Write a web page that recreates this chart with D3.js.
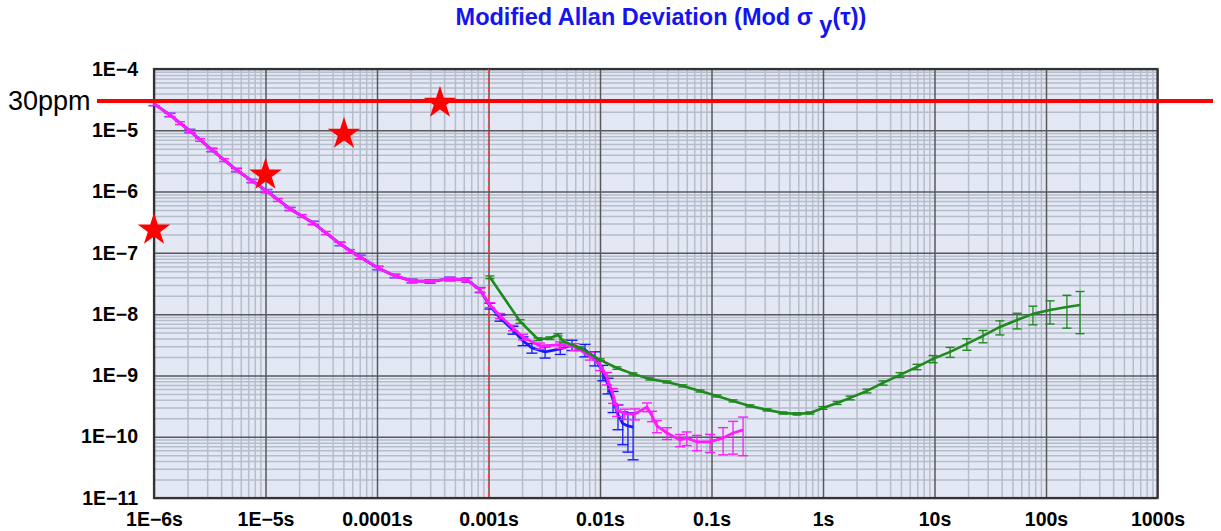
<!DOCTYPE html>
<html><head><meta charset="utf-8">
<script src="https://cdn.jsdelivr.net/npm/d3@7"></script>
<style>
body{margin:0;background:#fff;}
svg{display:block;font-family:"Liberation Sans",Arial,Helvetica,sans-serif;}
</style>
</head><body>
<svg id="chart" width="1221" height="531"></svg>
<script>
// ---------- data ----------
const xTicks = [1e-6, 1e-5, 1e-4, 1e-3, 1e-2, 1e-1, 1, 10, 100, 1000];
const xTickLabels = ["1E\u22126s", "1E\u22125s", "0.0001s", "0.001s", "0.01s", "0.1s", "1s", "10s", "100s", "1000s"];
const yTicks = [1e-11, 1e-10, 1e-9, 1e-8, 1e-7, 1e-6, 1e-5, 1e-4];
const yTickLabels = ["1E\u221211", "1E\u221210", "1E\u22129", "1E\u22128", "1E\u22127", "1E\u22126", "1E\u22125", "1E\u22124"];

const titleMain = "Modified Allan Deviation (Mod \u03c3 ";
const titleSub = "y";
const titleEnd = "(\u03c4))";

const magentaTau = [1.0e-6, 1.39e-6, 1.71e-6, 2.1e-6, 2.59e-6, 3.31e-6, 4.25e-6, 5.5e-6, 7.57e-6, 1.03e-5,
  1.29e-5, 1.66e-5, 2.12e-5, 2.68e-5, 3.49e-5, 4.66e-5, 5.73e-5, 7.05e-5, 1.02e-4, 1.45e-4,
  2.06e-4, 2.99e-4, 4.5e-4, 6.4e-4, 8.4e-4, 1.03e-3, 1.27e-3,
  1.66e-3, 2.04e-3, 2.9e-3, 4.4e-3, 5.97e-3, 8.1e-3, 1.0e-2, 1.16e-2, 1.31e-2, 1.42e-2,
  1.67e-2, 2.06e-2, 2.64e-2, 2.93e-2, 3.24e-2, 3.99e-2, 5.21e-2, 6.0e-2, 7.41e-2, 9.7e-2,
  0.127, 0.156, 0.192];
const magentaDev = [2.69e-5, 1.78e-5, 1.31e-5, 9.75e-6, 6.95e-6, 4.78e-6, 3.27e-6, 2.25e-6, 1.49e-6, 1.02e-6,
  7.3e-7, 5.2e-7, 4.0e-7, 3.08e-7, 2.11e-7, 1.40e-7, 1.07e-7, 8.57e-8, 5.67e-8, 4.2e-8,
  3.48e-8, 3.42e-8, 3.75e-8, 3.61e-8, 2.48e-8, 1.41e-8, 9.35e-9,
  5.96e-9, 4.25e-9, 3.03e-9, 3.15e-9, 2.92e-9, 2.08e-9, 1.48e-9, 9.1e-10, 4.8e-10, 2.74e-10,
  2.36e-10, 2.36e-10, 3.06e-10, 2.18e-10, 1.5e-10, 1.15e-10, 8.87e-11, 9.56e-11, 8.22e-11, 8.22e-11,
  9.56e-11, 1.15e-10, 1.29e-10];
const magentaErr = [1.5e-6, 1.0e-6, 7e-7, 5e-7, 3.5e-7, 2.5e-7, 1.7e-7, 1.2e-7, 8e-8, 5.5e-8,
  4e-8, 2.8e-8, 2.2e-8, 1.7e-8, 1.2e-8, 8e-9, 6e-9, 5e-9, 3.2e-9, 2.4e-9,
  2e-9, 2e-9, 2.2e-9, 2.5e-9, 2e-9, 1.3e-9, 9e-10,
  6e-10, 4.5e-10, 3.5e-10, 3.8e-10, 3.8e-10, 3e-10, 2.8e-10, 2.1e-10, 1.3e-10, 6e-11,
  4.5e-11, 4.8e-11, 5e-11, 4.2e-11, 3.4e-11, 2.5e-11, 2e-11, 2.4e-11, 2.3e-11, 2.7e-11,
  4.5e-11, 6.3e-11, 8e-11];

const blueTau = [1.0e-6, 1.39e-6, 2.1e-6, 3.31e-6, 5.5e-6, 7.57e-6, 1.03e-5, 1.66e-5, 2.68e-5, 4.66e-5,
  7.05e-5, 1.02e-4, 1.45e-4, 2.06e-4, 2.99e-4, 4.5e-4, 6.4e-4, 8.4e-4, 1.03e-3, 1.27e-3,
  1.66e-3, 2.04e-3, 2.45e-3, 3.22e-3, 4.4e-3, 5.61e-3, 7.33e-3, 9.0e-3, 1.06e-2, 1.18e-2,
  1.31e-2, 1.45e-2, 1.6e-2, 1.78e-2, 1.98e-2];
const blueDev = [2.69e-5, 1.78e-5, 9.75e-6, 4.78e-6, 2.25e-6, 1.49e-6, 1.02e-6, 5.2e-7, 3.08e-7, 1.40e-7,
  8.57e-8, 5.67e-8, 4.2e-8, 3.48e-8, 3.42e-8, 3.75e-8, 3.61e-8, 2.48e-8, 1.36e-8, 8.67e-9,
  5.52e-9, 3.66e-9, 2.81e-9, 2.42e-9, 2.7e-9, 3.15e-9, 2.61e-9, 1.93e-9, 1.14e-9, 7.0e-10,
  3.98e-10, 2.3e-10, 1.64e-10, 1.5e-10, 1.43e-10];
const blueErr = [1.7e-6, 1.1e-6, 6e-7, 3e-7, 1.4e-7, 9e-8, 6e-8, 3e-8, 1.9e-8, 9e-9,
  5.5e-9, 3.6e-9, 2.7e-9, 2.3e-9, 2.3e-9, 2.5e-9, 2.8e-9, 2.3e-9, 1.5e-9, 1e-9,
  8e-10, 6e-10, 5e-10, 5e-10, 5e-10, 6e-10, 6e-10, 5e-10, 3.2e-10, 2e-10,
  1.5e-10, 1.0e-10, 9e-11, 9.4e-11, 1.01e-10];

const greenTau = [1.03e-3, 1.92e-3, 2.78e-3, 3.56e-3, 4.2e-3, 4.7e-3, 6.6e-3, 1.0e-2, 1.42e-2, 1.98e-2,
  2.8e-2, 3.99e-2, 5.54e-2, 7.9e-2, 0.112, 0.156, 0.221, 0.315, 0.438, 0.585,
  0.764, 1.0, 1.34, 1.75, 2.48, 3.45, 4.91, 6.97, 9.7, 13.8,
  19.5, 27.2, 38.6, 55, 76.4, 108.6, 154, 202];
const greenDev = [4.0e-8, 7.6e-9, 3.9e-9, 4.05e-9, 4.6e-9, 3.6e-9, 2.81e-9, 1.79e-9, 1.32e-9, 1.06e-9,
  8.77e-10, 7.83e-10, 6.75e-10, 5.58e-10, 4.63e-10, 3.84e-10, 3.18e-10, 2.74e-10, 2.44e-10, 2.36e-10,
  2.44e-10, 2.95e-10, 3.56e-10, 4.3e-10, 5.58e-10, 7.55e-10, 1.02e-9, 1.38e-9, 1.86e-9, 2.42e-9,
  3.27e-9, 4.41e-9, 6.18e-9, 8.04e-9, 1.01e-8, 1.17e-8, 1.31e-8, 1.41e-8];
const greenErr = [2e-9, 5e-10, 2e-10, 2e-10, 2e-10, 2e-10, 1.2e-10, 8e-11, 6e-11, 4e-11,
  3.5e-11, 3e-11, 2.6e-11, 2.2e-11, 1.8e-11, 1.5e-11, 1.3e-11, 1.1e-11, 1e-11, 1e-11,
  1e-11, 1.5e-11, 2e-11, 3e-11, 4e-11, 6e-11, 9e-11, 1.4e-10, 2.5e-10, 4.5e-10,
  7e-10, 1.0e-9, 1.6e-9, 2.3e-9, 3.4e-9, 4.8e-9, 7.2e-9, 9.3e-9];

const starTau = [1e-6, 1e-5, 5.06e-5, 3.67e-4];
const starDev = [2.37e-7, 1.87e-6, 8.7e-6, 2.79e-5];

const limitValue = 3e-5;
const limitLabel = "30ppm";
const markerTau = 1e-3;

// ---------- layout ----------
const L = 154, R = 1157.5, T = 69, B = 498;

const svg = d3.select("#chart");
const x = d3.scaleLog().domain([1e-6, 1000]).range([L, R]);
const y = d3.scaleLog().domain([1e-11, 1e-4]).range([B, T]);

svg.append("rect").attr("x", L).attr("y", T).attr("width", R - L).attr("height", B - T)
  .attr("fill", "#e3e8f4");

const xMinor = [], yMinor = [];
for (let d = -6; d < 3; d++) for (let k = 2; k <= 9; k++) xMinor.push(k * Math.pow(10, d));
for (let d = -11; d < -4; d++) for (let k = 2; k <= 9; k++) yMinor.push(k * Math.pow(10, d));

const gxMinor = svg.append("g").attr("transform", `translate(0,${B})`)
  .call(d3.axisBottom(x).tickValues(xMinor).tickSize(-(B - T)).tickFormat(""));
const gyMinor = svg.append("g").attr("transform", `translate(${L},0)`)
  .call(d3.axisLeft(y).tickValues(yMinor).tickSize(-(R - L)).tickFormat(""));
[gxMinor, gyMinor].forEach(g => {
  g.select(".domain").remove();
  g.selectAll("line").attr("stroke", "#b6bdcb").attr("stroke-width", 1.5);
});

const gxMajor = svg.append("g").attr("transform", `translate(0,${B})`)
  .call(d3.axisBottom(x).tickValues(xTicks).tickSize(-(B - T)).tickFormat(""));
const gyMajor = svg.append("g").attr("transform", `translate(${L},0)`)
  .call(d3.axisLeft(y).tickValues(yTicks).tickSize(-(R - L)).tickFormat(""));
[gxMajor, gyMajor].forEach(g => {
  g.select(".domain").remove();
  g.selectAll("line").attr("stroke", "#58585c").attr("stroke-width", 1.5);
});

svg.append("rect").attr("x", L).attr("y", T).attr("width", R - L).attr("height", B - T)
  .attr("fill", "none").attr("stroke", "#333").attr("stroke-width", 2.2);

const gxLab = svg.append("g").attr("transform", `translate(0,${B})`)
  .call(d3.axisBottom(x).tickValues(xTicks).tickSize(0).tickPadding(14)
    .tickFormat((d, i) => xTickLabels[i]));
const gyLab = svg.append("g").attr("transform", `translate(${L},0)`)
  .call(d3.axisLeft(y).tickValues(yTicks).tickSize(0).tickPadding(16)
    .tickFormat((d, i) => yTickLabels[i]));
[gxLab, gyLab].forEach(g => {
  g.select(".domain").remove();
  g.selectAll("text").attr("font-size", 19.5).attr("font-weight", "bold").attr("fill", "#000")
    .attr("font-family", "'Liberation Sans', Arial, sans-serif");
});

svg.append("line").attr("x1", x(markerTau)).attr("x2", x(markerTau)).attr("y1", T).attr("y2", B)
  .attr("stroke", "#e8474a").attr("stroke-width", 1.2).attr("stroke-dasharray", "5,4");

function drawSeries(tau, dev, err, color, capW, lw) {
  const pts = tau.map((t, i) => ({ t, v: dev[i], e: err[i] }));
  const g = svg.append("g");
  pts.forEach(p => {
    const hi = p.v + p.e, lo = Math.max(p.v - p.e, 1e-12);
    const cx = x(p.t);
    g.append("line").attr("x1", cx).attr("x2", cx).attr("y1", y(hi)).attr("y2", y(lo))
      .attr("stroke", color).attr("stroke-width", 1.3);
    [hi, lo].forEach(v => g.append("line").attr("x1", cx - capW / 2).attr("x2", cx + capW / 2)
      .attr("y1", y(v)).attr("y2", y(v)).attr("stroke", color).attr("stroke-width", 1.4));
  });
  g.append("path").datum(pts)
    .attr("d", d3.line().x(d => x(d.t)).y(d => y(d.v)))
    .attr("fill", "none").attr("stroke", color).attr("stroke-width", lw).attr("stroke-linejoin", "round");
}
drawSeries(blueTau, blueDev, blueErr, "#1a1aff", 11, 2.8);
drawSeries(magentaTau, magentaDev, magentaErr, "#ff1aff", 10, 2.8);
drawSeries(greenTau, greenDev, greenErr, "#1e8a1e", 9, 2.6);

svg.append("line").attr("x1", 97).attr("x2", 1213).attr("y1", y(limitValue)).attr("y2", y(limitValue))
  .attr("stroke", "#ff0000").attr("stroke-width", 4);
svg.append("text").attr("x", 8).attr("y", y(limitValue) + 9).attr("font-size", 27)
  .attr("font-family", "'Liberation Sans', Arial, sans-serif").attr("fill", "#000").text(limitLabel);

const star = d3.symbol().type(d3.symbolStar).size(330);
svg.append("g").selectAll("path").data(starTau).join("path")
  .attr("transform", (d, i) => `translate(${x(d)},${y(starDev[i])})`)
  .attr("d", star).attr("fill", "#ff0000");

const title = svg.append("text").attr("x", 661).attr("y", 25).attr("text-anchor", "middle")
  .attr("font-size", 23.5).attr("font-weight", "bold").attr("fill", "#1414f0");
title.append("tspan").text(titleMain);
title.append("tspan").attr("dy", 8).text(titleSub);
title.append("tspan").attr("dy", -8).text(titleEnd);
</script>
</body></html>
